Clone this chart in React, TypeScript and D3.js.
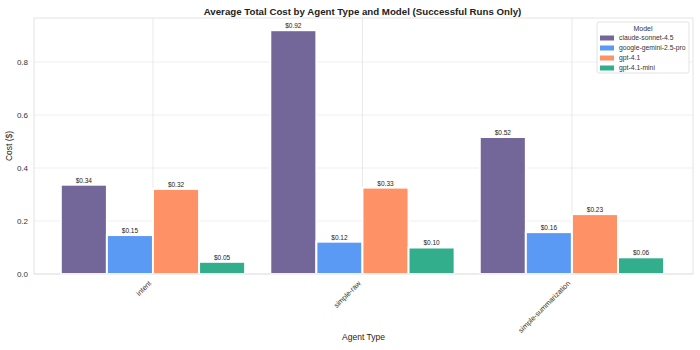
import React from "react";
import * as d3 from "d3";

const agentTypes = ["intent", "simple-raw", "simple-summarization"];
const models = ["claude-sonnet-4.5", "google-gemini-2.5-pro", "gpt-4.1", "gpt-4.1-mini"];
const colors = ["#73679a", "#5b9af4", "#fe9166", "#32ae8c"];

// cost per model, one value per agent type
const claudeCost = [0.337, 0.92, 0.517];
const geminiCost = [0.147, 0.122, 0.158];
const gpt41Cost = [0.321, 0.326, 0.226];
const gpt41MiniCost = [0.046, 0.1, 0.063];
const seriesValues = [claudeCost, geminiCost, gpt41Cost, gpt41MiniCost];

const yTicks = [0, 0.2, 0.4, 0.6, 0.8];

const W = 700;
const H = 350;
const m = { top: 18, right: 7, bottom: 76, left: 34 };

export default function App() {
  const iw = W - m.left - m.right;
  const ih = H - m.top - m.bottom;
  const barW = 0.22;

  const x = d3.scaleLinear().domain([-0.568, 2.578]).range([0, iw]);
  const y = d3.scaleLinear().domain([0, 0.966]).range([ih, 0]);

  const font = "'Liberation Sans', Arial, sans-serif";

  return (
    <svg
      width={W}
      height={H}
      style={{ position: "absolute", left: 0, top: 0, fontFamily: font }}
    >
      <rect width={W} height={H} fill="#fff" />
      <text
        x={362.5}
        y={15}
        textAnchor="middle"
        fontSize={9.7}
        fontWeight="bold"
        fill="#222"
      >
        Average Total Cost by Agent Type and Model (Successful Runs Only)
      </text>
      <g transform={`translate(${m.left},${m.top})`}>
        {yTicks.map((t) => (
          <g key={t}>
            <line x1={0} x2={iw} y1={y(t)} y2={y(t)} stroke="#ebebeb" strokeWidth={0.8} />
            <text
              x={-6}
              y={y(t)}
              dy="0.35em"
              textAnchor="end"
              fontSize={8}
              fill="#333"
            >
              {t.toFixed(1)}
            </text>
          </g>
        ))}
        {agentTypes.map((a, i) => (
          <g key={a}>
            <line x1={x(i)} x2={x(i)} y1={0} y2={ih} stroke="#e3e3e3" strokeWidth={0.8} />
            <text
              transform={`translate(${x(i) - 3},${ih + 8}) rotate(-45)`}
              textAnchor="end"
              dy="0.35em"
              fontSize={7.2}
              fill="#333"
            >
              {a}
            </text>
          </g>
        ))}
        {seriesValues.map((vals, s) =>
          vals.map((v, i) => {
            const cx = i + (s - 1.5) * barW;
            const x0 = x(cx - barW / 2);
            const x1 = x(cx + barW / 2);
            return (
              <g key={`${s}-${i}`}>
                <rect
                  x={x0}
                  y={y(v)}
                  width={x1 - x0}
                  height={ih - y(v)}
                  fill={colors[s]}
                  stroke="#fff"
                  strokeWidth={2}
                />
                <text
                  x={(x0 + x1) / 2}
                  y={y(v) - 2}
                  textAnchor="middle"
                  fontSize={6.5}
                  fill="#222"
                >
                  ${v.toFixed(2)}
                </text>
              </g>
            );
          })
        )}
        <rect x={0} y={0} width={iw} height={ih} fill="none" stroke="#dcdcdc" strokeWidth={0.8} />
        <g transform={`translate(${iw - 96},${4})`}>
          <rect width={92} height={51} rx={2} fill="#fff" fillOpacity={0.85} stroke="#dcdcdc" strokeWidth={0.8} />
          <text x={46} y={8.5} textAnchor="middle" fontSize={7} fill="#333">
            Model
          </text>
          {models.map((md, k) => (
            <g key={md} transform={`translate(3,${13.5 + k * 10})`}>
              <rect width={14} height={5} y={0} fill={colors[k]} />
              <text x={19} y={2.5} dy="0.35em" fontSize={6.8} fill="#333">
                {md}
              </text>
            </g>
          ))}
        </g>
      </g>
      <text
        transform={`translate(12,${m.top + ih / 2}) rotate(-90)`}
        textAnchor="middle"
        fontSize={8.5}
        fill="#222"
      >
        Cost ($)
      </text>
      <text x={m.left + iw / 2} y={340} textAnchor="middle" fontSize={8.5} fill="#222">
        Agent Type
      </text>
    </svg>
  );
}
